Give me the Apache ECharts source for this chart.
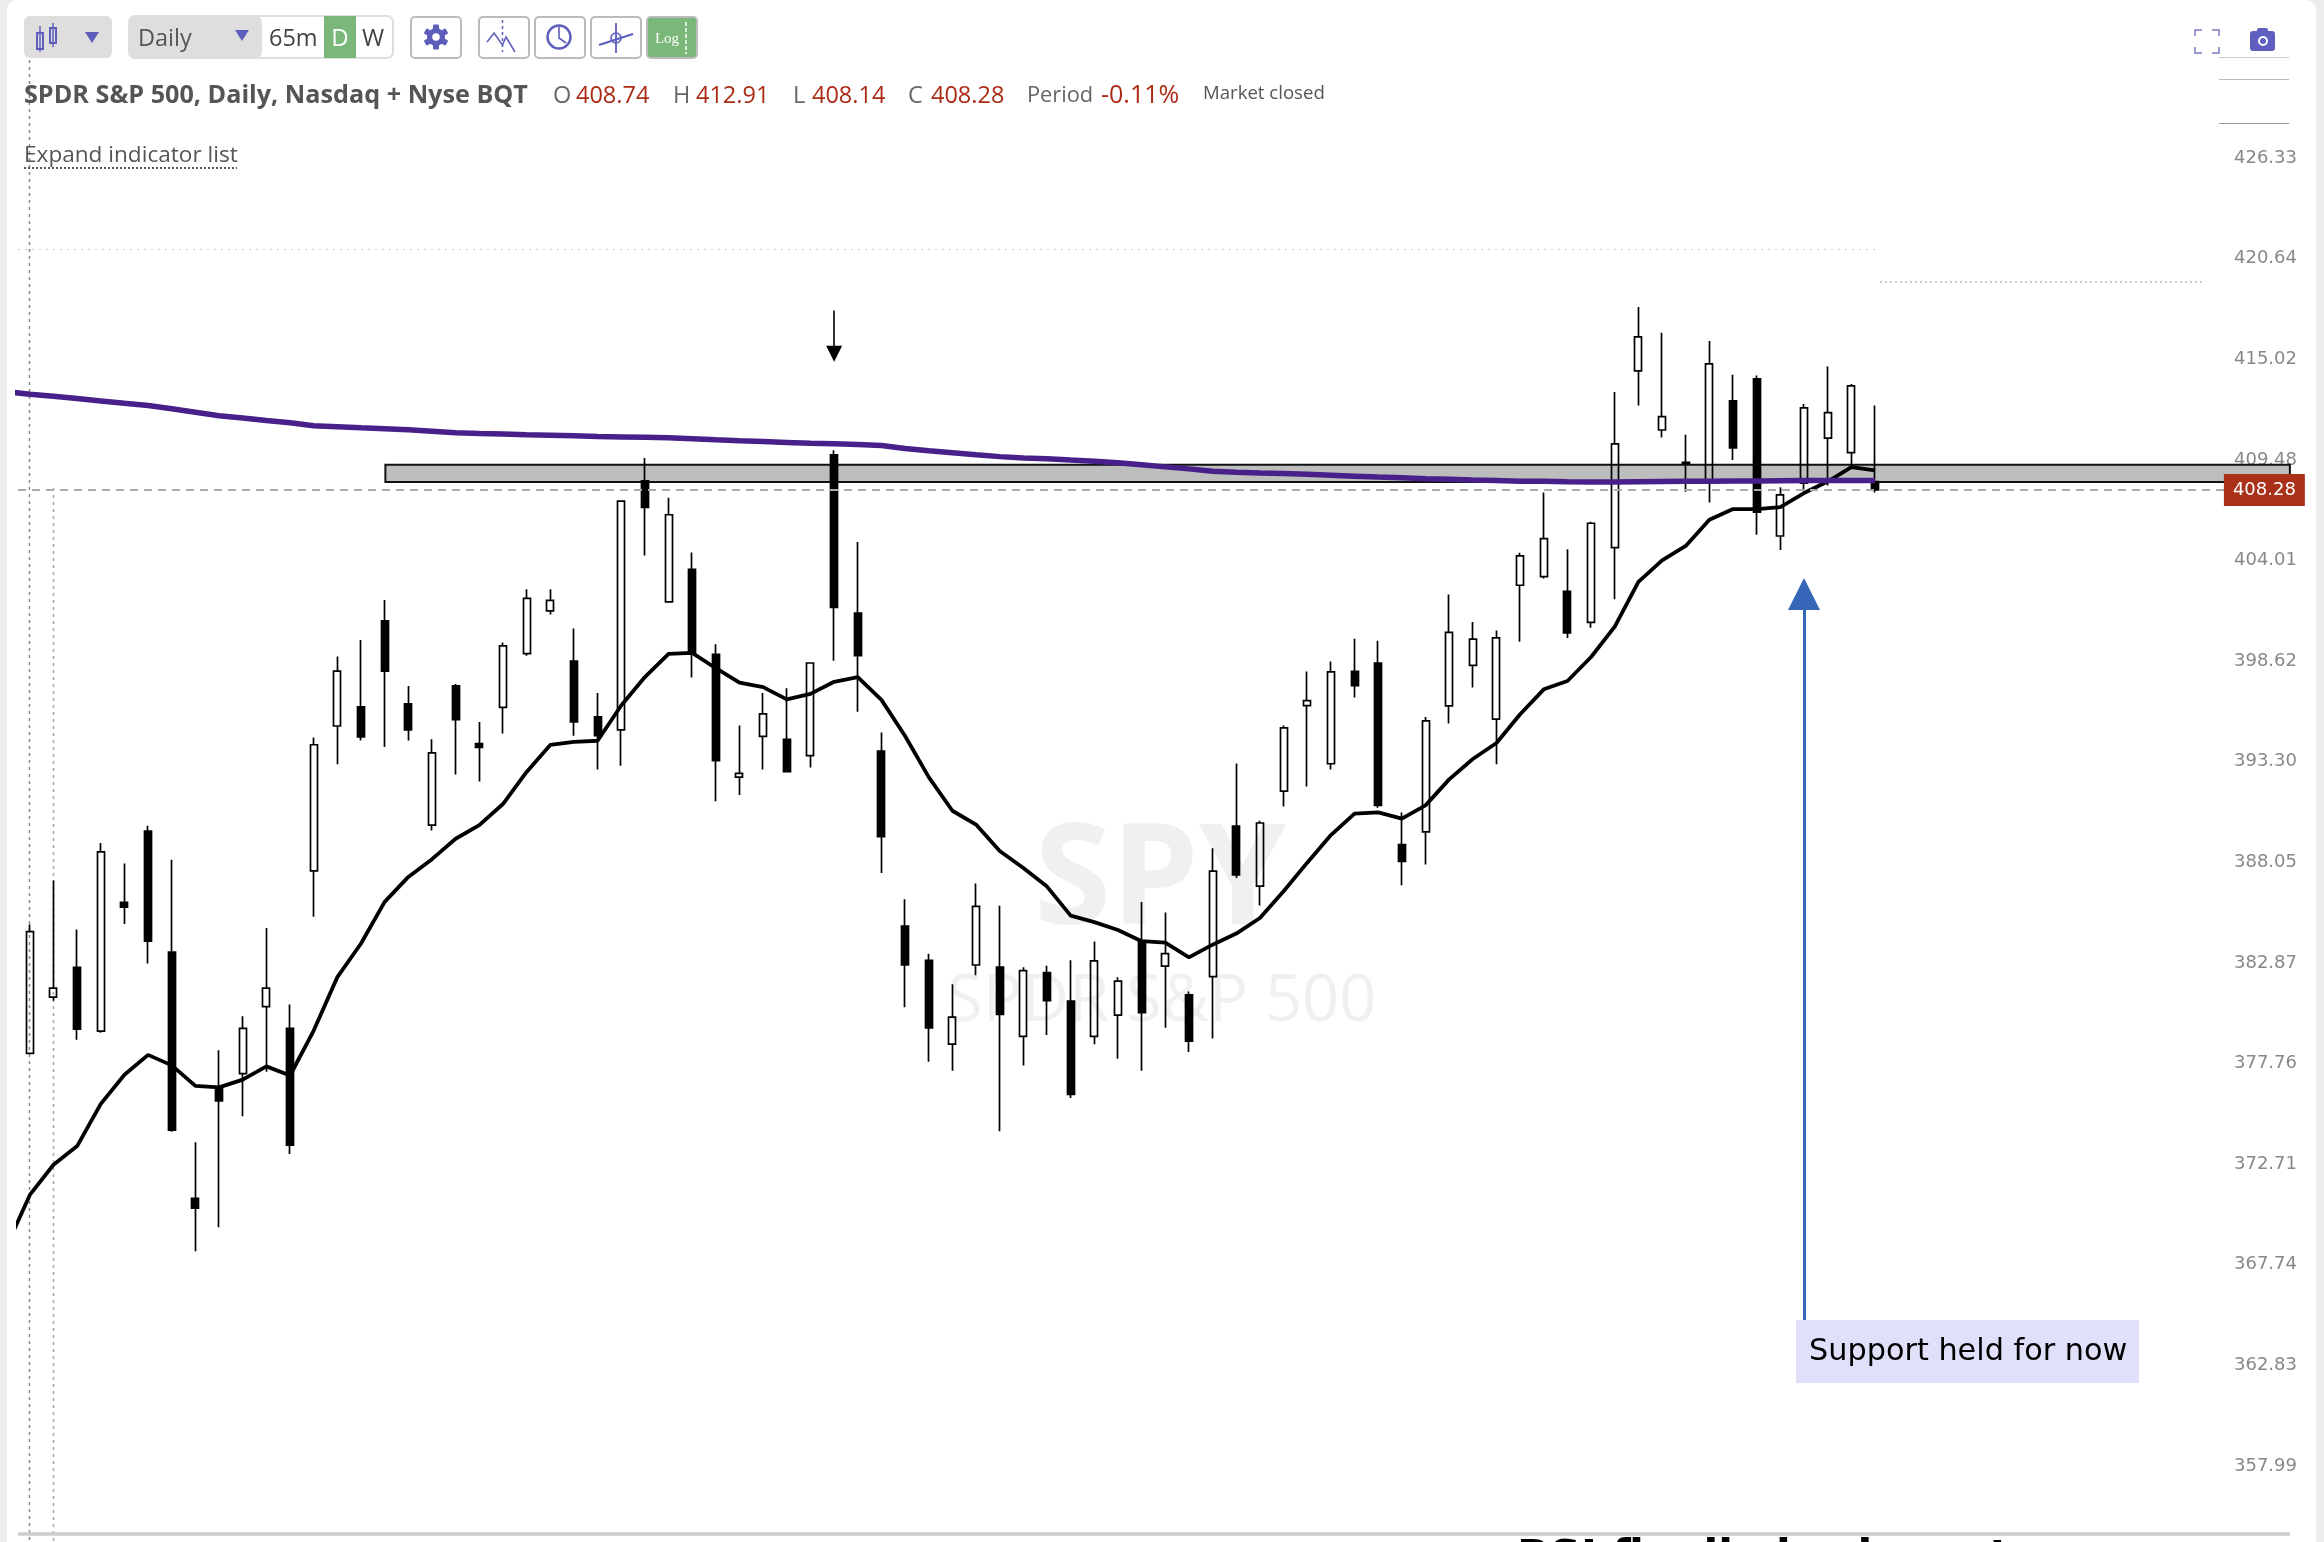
<!DOCTYPE html>
<html>
<head>
<meta charset="utf-8">
<style>
html, body { margin: 0; background: #ececec; }
#chart { width: 2324px; height: 1542px; }
</style>
<script src="https://cdn.jsdelivr.net/npm/echarts@6/dist/echarts.min.js"></script>
</head>
<body>
<div id="chart"></div>
<script>
// SPY daily candles
const opens = [378.71,381.56,383.08,379.83,386.42,390.11,383.86,371.45,377.00,377.68,381.08,379.97,388.04,395.62,396.63,401.21,396.79,390.42,397.74,394.69,
  396.60,399.46,401.74,399.06,396.10,395.41,408.77,402.23,403.98,399.42,392.93,395.07,394.92,394.06,410.20,401.63,394.30,385.20,383.44,379.17,
  383.20,383.09,379.57,382.81,381.36,379.57,380.64,384.40,383.14,381.68,382.61,390.37,387.25,392.20,396.70,393.63,398.51,398.96,389.40,390.07,
  396.68,398.83,395.98,403.12,403.58,402.79,401.13,405.15,414.82,411.56,409.79,408.83,413.17,414.38,405.78,408.65,411.11,410.32,408.74];
const closes = [384.91,382.02,379.93,389.03,386.17,384.42,374.84,370.96,376.31,379.97,382.02,374.09,394.63,398.53,395.05,398.53,395.41,394.20,395.96,394.49,
  399.87,402.41,402.31,395.84,395.11,407.67,407.33,406.93,399.50,393.79,393.13,396.26,393.22,398.96,401.93,399.35,389.82,383.20,380.00,380.54,
  386.21,380.68,382.91,381.38,376.64,383.41,382.38,380.77,383.78,379.32,388.03,387.84,390.53,395.52,396.96,398.49,397.75,391.45,388.54,395.89,
  400.59,400.23,400.30,404.70,405.64,400.56,406.47,410.80,416.71,412.30,409.72,415.21,410.58,407.07,408.01,412.78,412.52,413.99,408.28];
const highs = [385.28,387.54,385.02,389.49,388.43,390.39,388.62,374.24,378.86,380.59,385.09,381.18,395.01,399.31,400.19,402.33,397.74,394.92,397.84,395.83,
  400.05,402.91,402.91,400.80,397.36,407.67,410.02,407.86,404.89,399.96,395.64,397.36,397.62,398.96,410.45,405.46,395.28,386.58,383.78,382.22,
  387.39,386.24,383.09,383.16,383.44,384.40,382.57,386.43,385.89,381.84,389.22,393.65,390.65,395.64,398.51,399.04,400.25,400.15,391.08,396.10,
  402.62,401.15,400.69,404.87,408.14,405.06,406.55,413.65,418.37,416.93,411.30,416.48,414.60,414.56,408.43,412.99,415.06,414.10,412.91];
const lows = [378.66,381.37,379.39,379.75,385.30,383.27,374.77,368.84,370.02,375.54,377.78,373.66,385.67,393.61,394.86,394.51,394.86,390.14,393.07,392.70,
  395.22,399.35,401.55,395.11,393.33,393.52,404.72,402.23,398.19,391.66,391.99,393.33,393.19,393.43,399.08,396.37,387.93,381.05,378.28,377.83,
  382.68,374.79,378.10,379.64,376.46,379.17,378.43,377.83,380.00,378.78,379.46,387.67,386.25,391.39,392.44,393.33,397.13,391.32,387.30,388.37,
  395.75,397.66,393.60,400.09,403.48,400.29,400.84,402.37,412.91,411.15,408.18,407.60,409.92,405.84,405.02,408.28,408.52,409.59,408.14];
// the two averages start one bar left of the first candle
const fastMA = [369.02,371.62,373.12,374.05,376.16,377.63,378.63,378.10,377.07,376.99,377.38,378.05,377.59,379.86,382.58,384.30,386.44,387.73,388.65,389.71,
  390.42,391.52,393.20,394.62,394.78,394.84,396.70,398.21,399.44,399.50,398.68,397.92,397.68,397.03,397.32,397.96,398.21,397.00,395.09,392.93,
  391.17,390.45,389.07,388.19,387.23,385.73,385.40,384.99,384.42,384.35,383.59,384.24,384.81,385.61,386.99,388.47,389.90,391.02,391.08,390.76,
  391.45,392.81,393.88,394.72,396.24,397.56,398.00,399.28,400.90,403.30,404.46,405.24,406.66,407.24,407.24,407.35,408.11,408.74,409.52,409.35];
const slowMA = [413.67,413.53,413.42,413.29,413.16,413.03,412.91,412.73,412.54,412.34,412.22,412.08,411.96,411.79,411.74,411.68,411.63,411.57,411.49,411.41,
  411.37,411.34,411.30,411.27,411.24,411.20,411.18,411.16,411.13,411.08,411.02,410.97,410.93,410.88,410.83,410.80,410.77,410.71,410.54,410.42,
  410.31,410.20,410.10,410.03,409.98,409.91,409.85,409.76,409.65,409.54,409.43,409.30,409.25,409.21,409.18,409.13,409.08,409.03,408.98,408.94,
  408.89,408.86,408.82,408.79,408.76,408.75,408.73,408.72,408.72,408.73,408.74,408.75,408.76,408.77,408.77,408.78,408.79,408.79,408.79,408.79];
const tickLabels = ['426.33','420.64','415.02','409.48','404.01','398.62','393.30','388.05','382.87','377.76','372.71','367.74','362.83','357.99'];
const lastPrice = 408.28;
const zoneTop = 409.65;
const zoneBottom = 408.72;
const quote = [['O', '408.74', 553, 576], ['H', '412.91', 673, 696], ['L', '408.14', 793, 812], ['C', '408.28', 908, 931]];

const barCount = 97; // empty slots leave the room on the right of the last candle
const categories = Array.from({ length: barCount }, (_, i) => 'd' + i);
const candles = opens.map((o, i) => [o, closes[i], lows[i], highs[i]]);

// ticks sit on whole powers of the base, 357.99 is power 438
const logBase = Math.pow(357.99, 1 / 438);

const purple = '#5d5dbb';
const sans = '"Open Sans", sans-serif';
const axisFont = '"DejaVu Sans", sans-serif';

function txt(x, y, text, size, fill, extra, z) {
  return {
    type: 'text', x, y, z: z == null ? 20 : z,
    style: Object.assign({ text, fontSize: size, fontFamily: sans, fill, verticalAlign: 'middle' }, extra || {})
  };
}
function box(x, y, w, h, fill, stroke, r, z) {
  return {
    type: 'rect', z: z == null ? 20 : z,
    shape: { x, y, width: w, height: h, r: r || 0 },
    style: { fill, stroke: stroke || null, lineWidth: stroke ? 2 : 0 }
  };
}
function seg(x1, y1, x2, y2, stroke, width, dash, z) {
  return {
    type: 'line', z: z == null ? 21 : z,
    shape: { x1, y1, x2, y2 },
    style: { stroke, lineWidth: width, lineDash: dash || null }
  };
}
function tri(cx, cy) {
  return { type: 'polygon', z: 21, shape: { points: [[cx - 7, cy - 5], [cx + 7, cy - 5], [cx, cy + 6]] }, style: { fill: purple } };
}
// settings gear: three crossed bars, a disc and a hole
function gear(cx, cy) {
  const parts = [0, 1, 2].map(k => ({
    type: 'rect', z: 21, x: cx, y: cy, rotation: k * Math.PI / 3,
    shape: { x: -3, y: -12.5, width: 6, height: 25, r: 1 },
    style: { fill: purple }
  }));
  parts.push({ type: 'circle', z: 21, shape: { cx, cy, r: 9 }, style: { fill: purple } });
  parts.push({ type: 'circle', z: 22, shape: { cx, cy, r: 3.8 }, style: { fill: '#fff' } });
  return parts;
}

const toolbar = [
  box(24, 16, 88, 42, '#dedede', null, 6),
  box(37, 33, 6, 16, 'none', purple), seg(40, 26, 40, 52, purple, 1.5),
  box(50, 28, 6, 15, 'none', purple), seg(53, 23, 53, 47, purple, 1.5),
  tri(92, 37),
  box(129, 16, 264, 42, '#fff', '#dedede', 6),
  box(129, 16, 133, 42, '#dedede', null, 6),
  txt(138, 39, 'Daily', 23.5, '#555'),
  tri(242, 35),
  txt(269, 39, '65m', 23.5, '#444'),
  box(324, 16, 32, 42, '#7ab87a'),
  txt(340, 39, 'D', 24, '#fff', { align: 'center' }),
  txt(373, 39, 'W', 24, '#444', { align: 'center' }),
  box(411, 17, 50, 41, '#fff', '#bbb', 4),
  ...gear(436, 37),
  box(479, 17, 50, 41, '#fff', '#bbb', 4),
  seg(502.5, 20, 502.5, 52, purple, 1.5, [3, 3]),
  { type: 'polyline', z: 21, shape: { points: [[487, 42], [494, 33], [502.5, 45], [506, 37], [515, 52]] }, style: { stroke: purple, lineWidth: 1.5, fill: 'none' } },
  box(535, 17, 50, 41, '#fff', '#bbb', 4),
  { type: 'circle', z: 21, shape: { cx: 559, cy: 37, r: 11.5 }, style: { stroke: purple, lineWidth: 2.4, fill: 'none' } },
  { type: 'polyline', z: 21, shape: { points: [[559, 27], [559, 38], [566, 43]] }, style: { stroke: purple, lineWidth: 1.6, fill: 'none' } },
  box(591, 17, 50, 41, '#fff', '#bbb', 4),
  seg(616, 23, 616, 53, purple, 1.8),
  seg(599, 45, 633, 34, purple, 2),
  { type: 'circle', z: 21, shape: { cx: 616, cy: 38, r: 5 }, style: { stroke: purple, lineWidth: 1.6, fill: 'none' } },
  box(647, 17, 50, 41, '#7ab87a', '#bbb', 4),
  txt(667, 39, 'Log', 15, '#fff', { align: 'center', fontFamily: '"Liberation Serif", serif' }),
  seg(686, 22, 686, 54, '#fff', 1.5, [4, 2]),
  // full screen and camera
  { type: 'polyline', z: 21, shape: { points: [[2195, 36], [2195, 30], [2202, 30]] }, style: { stroke: '#7a7ac8', lineWidth: 1.5, fill: 'none' } },
  { type: 'polyline', z: 21, shape: { points: [[2212, 30], [2219, 30], [2219, 36]] }, style: { stroke: '#7a7ac8', lineWidth: 1.5, fill: 'none' } },
  { type: 'polyline', z: 21, shape: { points: [[2195, 47], [2195, 53], [2202, 53]] }, style: { stroke: '#7a7ac8', lineWidth: 1.5, fill: 'none' } },
  { type: 'polyline', z: 21, shape: { points: [[2212, 53], [2219, 53], [2219, 47]] }, style: { stroke: '#7a7ac8', lineWidth: 1.5, fill: 'none' } },
  box(2250, 31, 25, 20, '#5f5fc0', null, 3),
  box(2257, 28, 11, 5, '#5f5fc0', null, 2),
  { type: 'circle', z: 22, shape: { cx: 2263, cy: 41, r: 4 }, style: { stroke: '#fff', lineWidth: 2, fill: '#5f5fc0' } }
];

const header = [
  txt(24, 96, 'SPDR S&P 500, Daily, Nasdaq + Nyse BQT', 25.2, '#555', { fontWeight: 'bold' }),
  txt(1027, 96, 'Period', 21.8, '#666'),
  txt(1101, 96, '-0.11%', 25, '#ab2b14'),
  txt(1203, 94, 'Market closed', 18.6, '#555'),
  txt(24, 156, 'Expand indicator list', 22.6, '#555'),
  seg(24, 168, 237, 168, '#555', 2, [2, 2])
];
quote.forEach(q => {
  header.push(txt(q[2], 96, q[0], 23.5, '#666'));
  header.push(txt(q[3], 96, q[1], 23.5, '#ab2b14'));
});

const backdrop = [
  box(7, 0, 2309, 1542, '#fff', null, [10, 10, 0, 0], -10),
  // watermark
  txt(1034, 884, 'SPY', 140, '#f0f0f0', { fontWeight: 'bold', fontFamily: sans }, 0),
  txt(947, 1002, 'SPDR S&P 500', 65, '#f0f0f0', { fontFamily: sans }, 0),
  // left over cursor and grid guides
  seg(29.5, 60, 29.5, 1542, '#888', 1.5, [3, 4], 0),
  seg(53.5, 488, 53.5, 1542, '#aaa', 1.5, [3, 4], 0),
  seg(18, 249.5, 1880, 249.5, '#ccc', 1, [2, 5], 0),
  seg(1880, 282, 2205, 282, '#bbb', 1.5, [2, 3], 0),
  seg(2219, 57.5, 2289, 57.5, '#ccc', 1, null, 0),
  seg(2219, 79.5, 2289, 79.5, '#bbb', 1, null, 0),
  seg(2219, 123.5, 2289, 123.5, '#999', 1, null, 0),
  seg(18, 1534, 2290, 1534, '#ccc', 3.5, null, 0)
];

const notes = [
  box(1796, 1320, 343, 63, '#e0e0fb', null, 0, 30),
  { type: 'text', z: 31, x: 1809, y: 1352, style: { text: 'Support held for now', fontSize: 30.3, fontFamily: axisFont, fill: '#000', verticalAlign: 'middle' } },
  { type: 'text', z: 31, x: 1517, y: 1537, style: { text: 'RSI finally broke out', fontSize: 43, fontWeight: 'bold', fontFamily: axisFont, fill: '#000', verticalAlign: 'top' } }
];

const option = {
  animation: false,
  backgroundColor: '#ececec',
  grid: { left: 18, top: -34.1, width: 2294.6, height: 1609.6, containLabel: false, outerBoundsMode: 'none' },
  xAxis: [
    { type: 'category', data: categories, show: false, boundaryGap: true },
    { type: 'value', min: -0.5, max: barCount - 0.5, show: false }
  ],
  yAxis: {
    type: 'log',
    logBase,
    position: 'right',
    min: Math.pow(logBase, 437),
    max: Math.pow(logBase, 453),
    interval: 1,
    axisLine: { show: false },
    axisTick: { show: false },
    splitLine: { show: false },
    axisLabel: {
      inside: true,
      margin: 15.6,
      fontSize: 18,
      fontFamily: axisFont,
      color: '#888',
      verticalAlign: 'bottom',
      formatter: v => tickLabels.find(t => Math.abs(+t - v) < 1.2) || ''
    }
  },
  graphic: { elements: backdrop.concat(toolbar, header, notes) },
  series: [
    {
      // resistance zone and last price line, under the candles
      type: 'line', xAxisIndex: 1, z: 1, data: [], silent: true, showSymbol: false,
      markArea: {
        silent: true,
        itemStyle: { color: '#bdbdbd', borderColor: '#111', borderWidth: 2 },
        data: [[{ coord: [15.03, zoneTop] }, { coord: [95.54, zoneBottom] }]]
      },
      markLine: {
        silent: true, symbol: 'none', animation: false,
        lineStyle: { color: '#aaa', width: 2, type: [8, 6] },
        label: {
          position: 'end', distance: 0, formatter: lastPrice.toFixed(2),
          color: '#fff', fontSize: 18, fontFamily: axisFont,
          backgroundColor: '#a93119', padding: [7, 9]
        },
        data: [[{ coord: [-0.5, lastPrice] }, { coord: [92.75, lastPrice] }]]
      }
    },
    {
      type: 'candlestick', name: 'SPY', xAxisIndex: 0, z: 2, data: candles, barWidth: 7.5,
      itemStyle: { color: 'rgba(0,0,0,0)', color0: '#000', borderColor: '#000', borderColor0: '#000', borderWidth: 1.7 }
    },
    {
      type: 'line', name: 'MA fast', xAxisIndex: 1, z: 3, showSymbol: false, silent: true,
      data: fastMA.map((v, i) => [i - 1, v]),
      lineStyle: { color: '#000', width: 3.8 }
    },
    {
      type: 'line', name: 'MA slow', xAxisIndex: 1, z: 4, showSymbol: false, silent: true,
      data: slowMA.map((v, i) => [i - 1, v]),
      lineStyle: { color: '#47208a', width: 5.5 }
    },
    {
      // hand drawn arrows
      type: 'line', xAxisIndex: 1, z: 5, data: [], silent: true, showSymbol: false,
      markLine: {
        silent: true, animation: false, label: { show: false },
        data: [
          [
            { coord: [34, 418.17], symbol: 'none', lineStyle: { color: '#000', width: 1.6, type: 'solid' } },
            { coord: [34, 415.77], symbol: 'triangle', symbolSize: 16 }
          ],
          [
            { coord: [75, 365.44], symbol: 'none', lineStyle: { color: '#3767b8', width: 3, type: 'solid' } },
            { coord: [75, 402.65], symbol: 'triangle', symbolSize: 32 }
          ]
        ]
      }
    }
  ]
};

const chart = echarts.init(document.getElementById('chart'), null, { renderer: 'canvas' });
chart.setOption(option);
</script>
</body>
</html>
